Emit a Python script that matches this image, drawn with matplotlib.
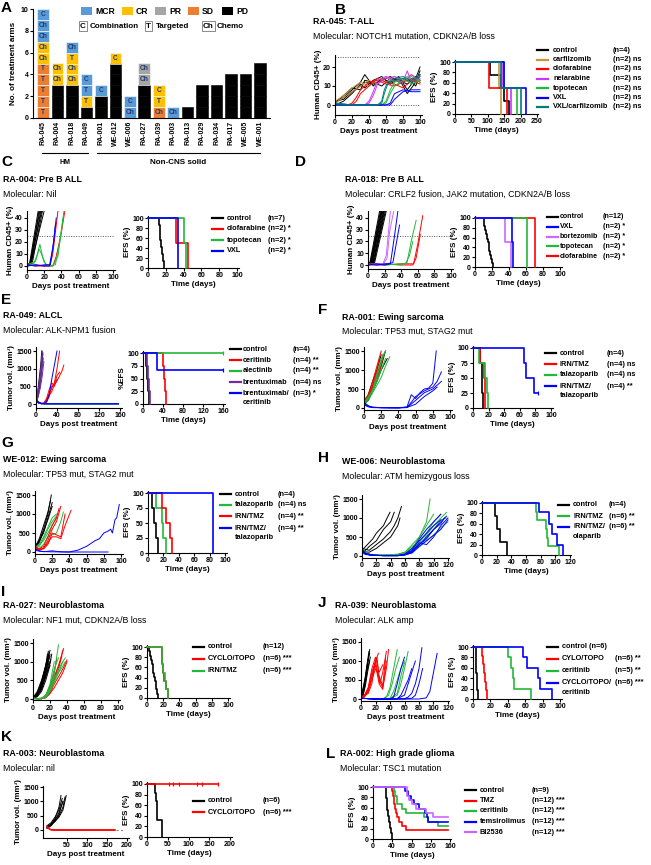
import matplotlib
matplotlib.use('Agg')
import matplotlib.pyplot as plt
from matplotlib.lines import Line2D
from matplotlib.patches import Rectangle

plt.rcParams['font.family'] = ['Liberation Sans', 'DejaVu Sans']
plt.rcParams['font.weight'] = 'bold'
plt.rcParams['axes.labelweight'] = 'bold'
plt.rcParams['axes.linewidth'] = 0.8

W, H = 651, 865
fig = plt.figure(figsize=(6.51, 8.65), dpi=100)

BLK, RED, GRN, BLU = '#000000', '#FF0000', '#22B83A', '#0000FF'

# ---------------- panel A data ----------------
a_models = ['RA-045', 'RA-004', 'RA-018', 'RA-049', 'RA-001', 'WE-012', 'WE-006', 'RA-027',
            'RA-039', 'RA-003', 'RA-013', 'RA-029', 'RA-034', 'RA-017', 'WE-005', 'WE-001']
a_status = [['SD'] * 5 + ['CR'] * 2 + ['MCR'] * 3,
            ['PD'] * 3 + ['CR'] * 2,
            ['PD'] * 3 + ['CR'] * 3 + ['MCR'],
            ['PD', 'CR', 'MCR', 'MCR'],
            ['PD', 'PD', 'MCR'],
            ['PD'] * 5 + ['CR'],
            ['MCR', 'MCR'],
            ['PD'] * 3 + ['PR'] * 2,
            ['SD', 'CR', 'CR'],
            ['MCR'],
            ['PD'], ['PD'] * 3, ['PD'] * 3, ['PD'] * 4, ['PD'] * 4, ['PD'] * 5]
a_type = [['T'] * 5 + ['Ch', 'Ch', 'Ch', 'Ch', 'C'],
          ['', '', '', 'Ch', 'Ch'],
          ['', '', '', 'Ch', 'Ch', 'T', 'Ch'],
          ['', 'T', 'T', 'C'],
          ['', '', 'C'],
          ['', '', '', '', '', 'C'],
          ['Ch', 'C'],
          ['', '', '', 'Ch', 'Ch'],
          ['Ch', 'T', 'C'],
          ['Ch'],
          [''], [''] * 3, [''] * 3, [''] * 4, [''] * 4, [''] * 5]
a_colors = {'MCR': '#5B9BD5', 'CR': '#FFC000', 'PR': '#A5A5A5', 'SD': '#ED7D31', 'PD': '#000000'}

# ---------------- panel B data (T-ALL, CD45+ %) ----------------
b_lines = {
    'control': [([0, 10, 20, 30, 35, 45, 55, 65, 75, 85, 95, 100], [1, 4, 8, 12, 16, 10, 14, 12, 15, 8, 14, 20]),
                ([0, 10, 20, 30, 35, 45, 55, 65, 75, 85, 95, 100], [2, 3, 7, 10, 12, 11, 13, 15, 12, 14, 10, 16]),
                ([0, 10, 20, 30, 35, 45, 55, 65, 75, 85, 95, 100], [0, 2, 6, 11, 9, 13, 15, 11, 14, 6, 12, 18]),
                ([0, 10, 20, 30, 35, 45, 55, 65, 75, 85, 95, 100], [1, 5, 9, 8, 13, 12, 10, 14, 13, 11, 15, 13])],
    'carfilzomib': [([0, 10, 20, 30, 40, 50, 60, 70, 80, 90, 100], [2, 5, 9, 12, 10, 14, 12, 15, 13, 12, 14]),
                    ([0, 10, 20, 30, 40, 50, 60, 70, 80, 90, 100], [1, 4, 7, 10, 13, 11, 15, 12, 14, 16, 12])],
    'clofarabine': [([0, 10, 15, 20, 25, 30, 40, 50, 60, 70, 80, 90, 100], [1, 0, 0, 1, 4, 8, 12, 13, 11, 10, 12, 14, 12]),
                    ([0, 10, 15, 20, 25, 30, 40, 50, 60, 70, 80, 90, 100], [0, 0, 0, 0, 2, 6, 10, 14, 12, 11, 9, 13, 11])],
    'nelarabine': [([0, 20, 35, 40, 45, 50, 60, 70, 80, 85, 90, 100], [1, 0, 0, 2, 7, 13, 15, 13, 12, 18, 12, 15]),
                   ([0, 20, 35, 40, 45, 50, 60, 70, 80, 85, 90, 100], [0, 0, 0, 1, 5, 11, 14, 15, 13, 14, 16, 13])],
    'topotecan': [([0, 20, 40, 55, 60, 65, 70, 80, 90, 100], [1, 0, 0, 0, 2, 8, 12, 14, 11, 13]),
                  ([0, 20, 40, 55, 60, 65, 70, 80, 90, 100], [0, 0, 0, 0, 1, 6, 10, 13, 15, 12])],
    'VXL': [([0, 20, 40, 55, 60, 65, 70, 80, 90, 100], [0, 0, 0, 0, 0, 1, 6, 8, 7, 7]),
            ([0, 20, 40, 55, 60, 65, 70, 80, 90, 100], [0, 0, 0, 0, 0, 0, 3, 7, 8, 8])],
    'VXL/carfilzomib': [([0, 20, 40, 50, 55, 58, 62, 70, 80, 90, 100], [1, 0, 0, 0, 2, 8, 12, 14, 15, 13, 16]),
                        ([0, 20, 40, 50, 55, 58, 62, 70, 80, 90, 100], [0, 0, 0, 0, 1, 6, 11, 13, 14, 12, 15])],
}
b_km = {
    'control': ([0, 108, 140, 150, 165], [100, 75, 50, 25, 0]),
    'carfilzomib': ([0, 135, 140], [100, 50, 0]),
    'clofarabine': ([0, 105, 160], [100, 50, 0]),
    'nelarabine': ([0, 143, 170], [100, 50, 0]),
    'topotecan': ([0, 148, 190], [100, 50, 0]),
    'VXL': ([0, 150, 215], [100, 50, 0]),
    'VXL/carfilzomib': ([0, 140, 200], [100, 50, 0]),
}
b_names = ['control', 'carfilzomib', 'clofarabine', 'nelarabine', 'topotecan', 'VXL', 'VXL/carfilzomib']
b_ns = ['(n=4)', '(n=2) ns', '(n=2) ns', '(n=2) ns', '(n=2) ns', '(n=2) ns', '(n=2) ns']
b_cols = [BLK, '#C8963E', RED, '#CC33FF', GRN, BLU, '#007A7A']

# ---------------- panel C data ----------------
c_lines = {
    'control': [([0, 3, 13], [0, 2, 46]), ([0, 4, 14], [1, 2, 46]), ([0, 3, 15], [0, 1, 46]),
                ([0, 5, 16], [1, 3, 46]), ([0, 4, 17], [0, 2, 46]), ([0, 6, 18], [1, 2, 46]),
                ([0, 5, 20], [0, 3, 46])],
    'clofarabine': [([0, 10, 20, 27, 30, 36], [1, 0, 0, 1, 10, 46]),
                    ([0, 10, 20, 30, 34, 40, 44], [0, 1, 0, 0, 8, 28, 46])],
    'topotecan': [([0, 8, 12, 15, 18, 22, 30, 36, 43], [0, 2, 10, 18, 8, 1, 0, 8, 46]),
                  ([0, 10, 14, 17, 20, 25, 33, 38, 42], [1, 4, 14, 10, 3, 0, 1, 20, 40])],
    'VXL': [([0, 10, 20, 26, 30, 34], [0, 1, 0, 0, 15, 40]),
            ([0, 10, 20, 27, 31, 33], [1, 0, 1, 1, 20, 34])],
}
c_km = {
    'control': ([0, 12, 13, 14, 15, 16, 17, 18], [100, 86, 71, 57, 43, 29, 14, 0]),
    'clofarabine': ([0, 32, 45], [100, 50, 0]),
    'topotecan': ([0, 41, 43], [100, 50, 0]),
    'VXL': ([0, 34], [100, 0]),
}
c_names = ['control', 'clofarabine', 'topotecan', 'VXL']
c_ns = ['(n=7)', '(n=2) *', '(n=2) *', '(n=2) *']
c_cols = [BLK, RED, GRN, BLU]

# ---------------- panel D data ----------------
d_lines = {
    'control': [([0, 2, 14], [0, 1, 46]), ([0, 3, 15], [1, 2, 46]), ([0, 3, 16], [0, 1, 46]),
                ([0, 4, 16], [1, 3, 46]), ([0, 4, 17], [0, 2, 46]), ([0, 5, 17], [1, 2, 46]),
                ([0, 5, 18], [0, 3, 46]), ([0, 6, 19], [1, 2, 46]), ([0, 6, 19], [0, 1, 46]),
                ([0, 7, 20], [1, 3, 46]), ([0, 7, 21], [0, 2, 46]), ([0, 8, 22], [1, 2, 46])],
    'clofarabine': [([0, 20, 40, 55, 60, 66], [0, 0, 1, 1, 18, 42]),
                    ([0, 20, 40, 54, 58, 63], [1, 1, 0, 0, 6, 26])],
    'topotecan': [([0, 20, 40, 47, 52, 58], [0, 1, 0, 2, 20, 38]),
                  ([0, 20, 40, 45, 50, 54], [1, 0, 1, 1, 8, 20])],
    'bortezomib': [([0, 10, 18, 22, 27], [0, 1, 1, 8, 46]),
                   ([0, 10, 18, 23, 26, 31], [1, 0, 0, 6, 28, 46])],
    'VXL': [([0, 10, 20, 27, 32, 36], [0, 1, 0, 1, 25, 46]),
            ([0, 10, 22, 30, 34, 38], [1, 0, 1, 2, 18, 34])],
}
d_km = {
    'control': ([0, 10, 11, 12, 13, 14, 15, 16, 17, 18, 19, 20, 21],
                [100, 92, 83, 75, 67, 58, 50, 42, 33, 25, 17, 8, 0]),
    'clofarabine': ([0, 70], [100, 0]),
    'topotecan': ([0, 61], [100, 0]),
    'bortezomib': ([0, 35, 42], [100, 50, 0]),
    'VXL': ([0, 43, 45], [100, 50, 0]),
}
d_names = ['control', 'VXL', 'bortezomib', 'topotecan', 'clofarabine']
d_ns = ['(n=12)', '(n=2) *', '(n=2) *', '(n=2) *', '(n=2) *']
d_cols = [BLK, BLU, '#CC66FF', GRN, RED]

# ---------------- panel E data ----------------
e_lines = {
    'control': [([0, 3, 6, 9, 11], [80, 300, 700, 1100, 1500]), ([0, 3, 6, 9, 12], [50, 200, 500, 900, 1400]),
                ([0, 4, 8, 11, 13], [100, 300, 650, 1000, 1450]), ([0, 4, 7, 10, 12], [60, 250, 550, 950, 1300])],
    'brentuximab': [([0, 3, 6, 9, 12], [100, 300, 600, 1000, 1500]), ([0, 4, 8, 11, 14], [50, 200, 500, 900, 1300]),
                    ([0, 3, 7, 10, 13], [80, 250, 600, 950, 1400]), ([0, 4, 8, 12, 15], [60, 200, 450, 800, 1200])],
    'ceritinib': [([0, 5, 10, 15, 20, 25, 30, 35, 40, 45], [150, 50, 20, 10, 100, 300, 450, 600, 1000, 1500]),
                  ([0, 5, 10, 15, 20, 25, 30, 35, 40, 45, 50, 53], [100, 40, 10, 10, 50, 200, 500, 550, 650, 800, 950, 1100]),
                  ([0, 5, 10, 15, 20, 25, 30, 35, 40], [120, 60, 20, 30, 150, 400, 600, 500, 700]),
                  ([0, 5, 10, 15, 20, 25, 30, 35, 40, 45], [80, 30, 10, 20, 100, 250, 350, 550, 800, 900])],
    'alectinib': [([0, 5, 10, 20, 40, 80, 120, 157], [100, 30, 10, 5, 5, 5, 5, 5]),
                  ([0, 5, 10, 20, 40, 80, 120, 157], [80, 20, 10, 5, 5, 5, 5, 5]),
                  ([0, 5, 10, 20, 40, 80, 120, 157], [120, 40, 15, 5, 5, 5, 5, 5]),
                  ([0, 5, 10, 20, 40, 80, 120, 157], [60, 20, 10, 5, 5, 5, 5, 5])],
    'brentuximab/ceritinib': [([0, 5, 10, 15, 20, 25, 30, 35, 40], [120, 50, 20, 10, 60, 250, 700, 1100, 1500]),
                              ([0, 5, 10, 20, 40, 80, 120, 157], [100, 40, 10, 5, 5, 5, 5, 5]),
                              ([0, 5, 10, 20, 40, 80, 120, 157], [90, 30, 10, 5, 5, 5, 5, 5])],
}
e_km = {
    'control': ([0, 6, 8, 10, 12], [100, 75, 50, 25, 0]),
    'ceritinib': ([0, 40, 42, 44, 45], [100, 75, 50, 25, 0]),
    'alectinib': ([0, 160], [100, 100]),
    'brentuximab': ([0, 8, 10, 11, 13], [100, 75, 50, 25, 0]),
    'brentuximab/ceritinib': ([0, 28, 160], [100, 67, 67]),
}
e_censor = {'alectinib': ([160], [100]), 'brentuximab/ceritinib': ([160], [67])}
e_names = ['control', 'ceritinib', 'alectinib', 'brentuximab', 'brentuximab/\nceritinib']
e_ns = ['(n=4)', '(n=4) **', '(n=4) **', '(n=4) ns', '(n=3) *']
e_cols = [BLK, RED, GRN, '#7030A0', BLU]

# ---------------- panel F data ----------------
f_lines = {
    'control': [([0, 5, 10, 15, 20, 25], [100, 250, 500, 800, 1100, 1500]),
                ([0, 5, 10, 15, 20, 24], [150, 300, 550, 900, 1200, 1450]),
                ([0, 5, 10, 15, 20], [120, 350, 700, 1000, 1400]),
                ([0, 5, 10, 15, 20, 27], [100, 200, 450, 700, 1000, 1300])],
    'IRN/TMZ': [([0, 5, 10, 15, 20], [200, 350, 700, 1100, 1500]),
                ([0, 5, 10, 15, 18], [150, 300, 600, 1000, 1300]),
                ([0, 4, 8, 12, 16, 20], [100, 250, 450, 700, 1000, 1200]),
                ([0, 5, 10, 15, 20, 22], [180, 300, 500, 800, 1100, 1400])],
    'talazoparib': [([0, 5, 10, 15, 20, 25], [120, 250, 500, 900, 1300, 1500]),
                    ([0, 5, 10, 15, 20, 25], [150, 300, 450, 700, 1000, 1300]),
                    ([0, 5, 10, 15, 20, 25, 30], [100, 200, 400, 600, 800, 1100, 1350]),
                    ([0, 5, 10, 15, 20, 25], [130, 250, 450, 800, 1200, 1500])],
    'IRN/TMZ/talazoparib': [([0, 5, 10, 20, 30, 40, 50, 55, 60, 65, 70, 75, 80, 84],
                             [150, 60, 20, 10, 10, 5, 30, 350, 250, 400, 500, 520, 650, 1500]),
                            ([0, 5, 10, 20, 30, 40, 50, 55, 60, 70, 80, 85, 90],
                             [100, 40, 20, 10, 5, 5, 20, 150, 300, 450, 550, 700, 950]),
                            ([0, 5, 10, 20, 30, 40, 50, 60, 70, 80, 85, 90],
                             [120, 50, 15, 10, 5, 5, 10, 200, 400, 500, 600, 700]),
                            ([0, 5, 10, 20, 30, 40, 50, 60, 70, 80, 85],
                             [80, 30, 10, 5, 5, 5, 15, 100, 300, 450, 550])],
}
f_km = {
    'control': ([0, 9, 11, 12, 13], [100, 75, 50, 25, 0]),
    'IRN/TMZ': ([0, 9, 14, 15, 16], [100, 75, 50, 25, 0]),
    'talazoparib': ([0, 8, 15, 18, 19], [100, 75, 50, 25, 0]),
    'IRN/TMZ/talazoparib': ([0, 65, 68, 78, 83], [100, 75, 50, 25, 25]),
}
f_censor = {'IRN/TMZ/talazoparib': ([83], [25])}
f_names = ['control', 'IRN/TMZ', 'talazoparib', 'IRN/TMZ/\ntalazoparib']
f_ns = ['(n=4)', '(n=4) ns', '(n=4) ns', '(n=4) **']
f_cols = [BLK, RED, GRN, BLU]

# ---------------- panel G data ----------------
g_lines = {
    'control': [([0, 5, 10, 15, 19], [100, 300, 600, 1000, 1500]), ([0, 5, 10, 15, 20], [150, 300, 500, 900, 1300]),
                ([0, 5, 10, 15, 18], [120, 350, 700, 1050, 1350]), ([0, 5, 10, 15, 20], [80, 250, 550, 850, 1200])],
    'talazoparib': [([0, 5, 10, 15, 20, 25], [100, 200, 400, 650, 900, 1000]),
                    ([0, 5, 10, 15, 20, 25], [150, 150, 350, 600, 800, 950]),
                    ([0, 5, 10, 15, 20, 25, 30, 33], [100, 100, 200, 400, 450, 500, 800, 1050]),
                    ([0, 5, 10, 15, 20, 25], [120, 200, 300, 500, 700, 900])],
    'IRN/TMZ': [([0, 5, 10, 15, 20, 25, 30], [100, 50, 100, 300, 600, 800, 1200]),
                ([0, 5, 10, 15, 20, 25, 30, 35], [150, 80, 80, 200, 500, 450, 400, 1000]),
                ([0, 5, 10, 15, 20, 25, 30, 35, 42], [100, 50, 100, 250, 400, 400, 350, 700, 1100]),
                ([0, 5, 10, 15, 20, 25, 28], [120, 80, 150, 400, 700, 900, 1150])],
    'IRN/TMZ/talazoparib': [([0, 5, 10, 20, 30, 40, 50, 60, 70, 75, 80, 85, 88, 90, 93, 95, 98],
                             [50, 20, 10, 30, 5, 0, 50, 150, 300, 350, 500, 550, 600, 500, 850, 900, 1250]),
                            ([0, 5, 10, 20, 40, 60, 85], [80, 30, 10, 5, 0, 0, 0])],
}
g_km = {
    'control': ([0, 5, 8, 11, 13], [100, 75, 50, 25, 0]),
    'talazoparib': ([0, 10, 18, 20, 24], [100, 75, 50, 25, 0]),
    'IRN/TMZ': ([0, 18, 24, 29, 31], [100, 75, 50, 25, 0]),
    'IRN/TMZ/talazoparib': ([0, 85], [100, 0]),
}
g_names = ['control', 'talazoparib', 'IRN/TMZ', 'IRN/TMZ/\ntalazoparib']
g_ns = ['(n=4)', '(n=4) ns', '(n=4) **', '(n=4) **']
g_cols = [BLK, GRN, RED, BLU]

# ---------------- panel H data ----------------
h_lines = {
    'control': [([0, 5, 10, 15, 20, 25, 30, 35, 39], [150, 250, 350, 450, 600, 700, 800, 1000, 1150]),
                ([0, 5, 10, 20, 30, 40, 45], [100, 150, 250, 400, 700, 900, 1150]),
                ([0, 10, 20, 30, 40, 45, 50, 55], [200, 150, 300, 450, 650, 800, 1000, 1300]),
                ([0, 10, 20, 30, 40, 50, 53], [120, 100, 200, 350, 500, 800, 1000])],
    'IRN/TMZ': [([0, 5, 10, 20, 40, 60, 70, 80, 90, 95], [200, 100, 30, 20, 20, 60, 200, 500, 900, 1500]),
                ([0, 5, 10, 20, 40, 60, 70, 80, 90, 100, 110], [150, 80, 30, 20, 20, 50, 150, 350, 600, 900, 1100]),
                ([0, 5, 15, 30, 50, 60, 70, 80, 90, 100, 110, 118], [120, 60, 20, 20, 30, 80, 200, 300, 500, 700, 950, 1000]),
                ([0, 5, 15, 30, 50, 60, 70, 80, 90, 100, 110, 118], [180, 90, 30, 20, 40, 100, 250, 400, 550, 800, 1000, 1150]),
                ([0, 5, 15, 30, 50, 60, 70, 80, 90, 100], [100, 50, 20, 20, 50, 100, 300, 500, 800, 1100]),
                ([0, 5, 15, 30, 50, 60, 70, 80, 90, 100, 110, 120], [150, 70, 25, 20, 30, 60, 150, 250, 400, 550, 750, 900])],
    'IRN/TMZ/olaparib': [([0, 5, 15, 30, 50, 60, 70, 80, 90, 100, 110], [150, 60, 20, 10, 10, 40, 150, 450, 700, 900, 1100]),
                         ([0, 5, 15, 30, 50, 60, 70, 80, 90, 100, 110, 118], [120, 50, 20, 10, 10, 30, 100, 300, 500, 700, 900, 1050]),
                         ([0, 5, 15, 30, 50, 60, 70, 80, 90, 100, 110, 120], [100, 40, 20, 10, 10, 30, 80, 250, 400, 550, 700, 950]),
                         ([0, 5, 15, 30, 50, 60, 70, 80, 90, 100, 110, 120], [180, 70, 20, 10, 10, 30, 100, 350, 300, 500, 800, 1000]),
                         ([0, 5, 15, 30, 50, 60, 70, 80, 90, 100, 110], [130, 50, 15, 10, 10, 50, 200, 400, 600, 800, 950]),
                         ([0, 5, 15, 30, 50, 60, 70, 80, 90, 100, 110, 115], [160, 60, 20, 10, 10, 40, 120, 300, 450, 700, 850, 1000])],
}
h_km = {
    'control': ([0, 18, 20, 25, 34], [100, 75, 50, 25, 0]),
    'IRN/TMZ': ([0, 73, 75, 87, 88, 90, 105], [100, 83, 67, 50, 33, 17, 0]),
    'IRN/TMZ/olaparib': ([0, 78, 92, 96, 102, 110], [100, 83, 60, 40, 20, 0]),
}
h_names = ['control', 'IRN/TMZ', 'IRN/TMZ/\nolaparib']
h_ns = ['(n=4)', '(n=6) **', '(n=6) **']
h_cols = [BLK, GRN, BLU]

# ---------------- panel I data ----------------
i_lines = {
    'control': [([0, 5, 10, 15, 19], [20, 100, 350, 800, 1250]), ([0, 5, 10, 15, 20], [30, 150, 400, 900, 1300]),
                ([0, 5, 10, 15, 18], [10, 80, 300, 700, 1100]), ([0, 5, 10, 15, 20], [40, 120, 450, 850, 1200]),
                ([0, 5, 10, 15, 21], [20, 100, 300, 600, 1050]), ([0, 5, 10, 15, 17], [30, 200, 500, 900, 1200]),
                ([0, 5, 10, 15, 20, 22], [20, 80, 250, 600, 950, 1200]), ([0, 5, 10, 14, 16], [10, 150, 450, 800, 1000]),
                ([0, 5, 10, 15, 20], [30, 100, 350, 750, 1150]), ([0, 5, 10, 15, 19], [20, 90, 300, 650, 1000]),
                ([0, 5, 10, 15, 20], [10, 60, 200, 500, 900]), ([0, 5, 10, 15, 18], [40, 150, 400, 800, 1280])],
    'CYCLO/TOPO': [([0, 5, 10, 15, 20, 25, 30, 35], [20, 10, 10, 50, 200, 500, 800, 1300]),
                   ([0, 5, 10, 15, 20, 25, 30, 35, 40], [30, 10, 10, 30, 150, 400, 600, 800, 1050]),
                   ([0, 5, 10, 15, 20, 25, 30, 36], [20, 5, 10, 100, 300, 600, 900, 1350]),
                   ([0, 5, 10, 15, 20, 25, 30, 35, 40], [10, 10, 5, 50, 150, 300, 500, 700, 1000]),
                   ([0, 5, 10, 15, 20, 25, 28], [20, 10, 20, 100, 350, 700, 1100]),
                   ([0, 5, 10, 15, 20, 25, 30, 34], [15, 10, 10, 60, 250, 550, 850, 1150])],
    'IRN/TMZ': [([0, 5, 10, 15, 20, 25, 30], [20, 10, 10, 40, 200, 700, 1450]),
                ([0, 5, 10, 15, 20, 25, 30, 35, 38], [30, 10, 20, 80, 300, 500, 800, 1000, 1100]),
                ([0, 5, 10, 15, 20, 25, 30], [20, 10, 10, 60, 350, 800, 1100]),
                ([0, 5, 10, 15, 20, 25, 28, 33, 38], [10, 5, 10, 50, 250, 600, 650, 800, 1000]),
                ([0, 5, 10, 15, 20, 25], [20, 10, 20, 100, 400, 1000]),
                ([0, 5, 10, 15, 20, 25, 30, 35], [15, 5, 10, 80, 200, 450, 700, 1000])],
}
i_km = {
    'control': ([0, 3, 4, 5, 6, 7, 8, 9, 10, 11, 12, 13], [100, 92, 83, 75, 67, 58, 50, 42, 33, 17, 8, 0]),
    'CYCLO/TOPO': ([0, 18, 19, 20, 21, 23, 26], [100, 83, 67, 50, 33, 17, 0]),
    'IRN/TMZ': ([0, 19, 20, 22, 24, 26], [100, 67, 50, 33, 17, 0]),
}
i_names = ['control', 'CYCLO/TOPO', 'IRN/TMZ']
i_ns = ['(n=12)', '(n=6) ***', '(n=6) ***']
i_cols = [BLK, RED, GRN]

# ---------------- panel J data ----------------
j_lines = {
    'control': [([0, 3, 6, 9, 12], [50, 200, 500, 900, 1300]), ([0, 3, 6, 9, 11], [80, 300, 600, 1000, 1250]),
                ([0, 3, 6, 9, 13], [40, 150, 400, 800, 1100]), ([0, 3, 6, 9, 12], [60, 250, 550, 950, 1200]),
                ([0, 3, 6, 8, 10], [50, 200, 450, 800, 1050]), ([0, 3, 6, 9, 12], [30, 100, 350, 700, 1000])],
    'CYLO/TOPO': [([0, 5, 10, 15, 20, 25, 30, 35, 38], [50, 100, 300, 700, 1000, 500, 300, 800, 1300]),
                  ([0, 5, 10, 15, 20, 25, 30, 35], [40, 80, 250, 600, 900, 400, 250, 1000]),
                  ([0, 5, 10, 15, 20, 25, 30, 34], [60, 100, 200, 500, 800, 600, 350, 1100]),
                  ([0, 5, 10, 15, 18, 22, 26, 30, 35], [50, 80, 150, 400, 800, 1100, 400, 700, 1250]),
                  ([0, 5, 10, 15, 20, 25, 30], [30, 100, 300, 800, 1100, 700, 900]),
                  ([0, 5, 10, 15, 20, 24], [50, 60, 200, 600, 1000, 1200])],
    'ceritinib': [([0, 10, 20, 30, 35, 40, 45, 50], [20, 10, 0, 0, 50, 300, 800, 1300]),
                  ([0, 10, 20, 30, 38, 43, 48, 53], [20, 10, 0, 0, 100, 400, 800, 1100]),
                  ([0, 10, 20, 30, 40, 45, 50, 55, 60], [20, 10, 0, 0, 20, 200, 500, 800, 1000]),
                  ([0, 10, 20, 30, 40, 50, 55, 60, 65], [20, 10, 0, 0, 10, 100, 400, 800, 1250]),
                  ([0, 10, 20, 30, 40, 50, 55, 60], [20, 10, 0, 0, 10, 150, 600, 950])],
    'CYCLO/TOPO/ceritinib': [([0, 20, 40, 45, 50, 55, 60], [20, 0, 0, 50, 400, 800, 1100]),
                             ([0, 20, 40, 50, 55, 60, 65, 70], [20, 0, 0, 10, 100, 300, 500, 800]),
                             ([0, 20, 40, 50, 60, 65, 70, 75], [20, 0, 0, 10, 100, 400, 700, 1000]),
                             ([0, 20, 40, 60, 65, 70, 75, 80, 84], [20, 0, 0, 10, 50, 150, 400, 800, 1350]),
                             ([0, 20, 40, 60, 70, 75, 80, 85], [20, 0, 0, 0, 20, 100, 400, 800]),
                             ([0, 20, 40, 60, 80, 90, 95, 100, 105], [20, 0, 0, 0, 0, 30, 200, 700, 1200])],
}
j_km = {
    'control': ([0, 3, 4, 5, 6], [100, 67, 50, 17, 0]),
    'CYLO/TOPO': ([0, 10, 12, 13, 14, 15, 16], [100, 83, 67, 50, 33, 17, 0]),
    'ceritinib': ([0, 40, 44, 46, 47, 67], [100, 80, 60, 40, 20, 0]),
    'CYCLO/TOPO/ceritinib': ([0, 57, 62, 75, 77, 91], [100, 80, 60, 40, 20, 0]),
}
j_names = ['control (n=6)', 'CYLO/TOPO', 'ceritinib', 'CYCLO/TOPO/\nceritinib']
j_ns = ['', '(n=6) **', '(n=5) **', '(n=6) ***']
j_cols = [BLK, RED, GRN, BLU]

# ---------------- panel K data ----------------
k_lines = {
    'control': [([0, 10, 20, 30, 35], [100, 200, 400, 800, 1200]), ([0, 10, 20, 30, 38], [150, 250, 450, 700, 1100]),
                ([0, 10, 20, 30, 40], [100, 150, 350, 600, 1000]), ([0, 10, 20, 30, 40, 45], [50, 150, 300, 500, 800, 1150]),
                ([0, 10, 20, 30, 40, 48], [100, 200, 300, 450, 700, 1200]), ([0, 10, 20, 30, 35, 40], [80, 200, 350, 550, 800, 1000])],
    'CYCLO/TOPO': [([0, 3, 6, 10, 20, 50, 100, 150, 170], [150, 100, 50, 10, 0, 0, 0, 0, 0]),
                   ([0, 3, 6, 10, 20, 50, 100, 150, 170], [120, 80, 40, 10, 0, 0, 0, 0, 0]),
                   ([0, 3, 6, 10, 20, 50, 100, 150, 170], [100, 60, 30, 5, 0, 0, 0, 0, 0]),
                   ([0, 3, 6, 10, 20, 50, 100, 150, 170], [80, 100, 20, 5, 0, 0, 0, 0, 0])],
}
k_km = {
    'control': ([0, 20, 22, 24, 25, 35], [100, 83, 67, 50, 33, 0]),
    'CYCLO/TOPO': ([0, 170], [100, 100]),
}
k_censor = {'CYCLO/TOPO': ([52, 62, 78, 120, 132, 170], [100] * 6)}
k_names = ['control', 'CYCLO/TOPO']
k_ns = ['(n=6)', '(n=6) ***']
k_cols = [BLK, RED]

# ---------------- panel L data ----------------
l_km = {
    'control': ([0, 27, 28, 29, 30, 32, 34, 36, 38, 40], [100, 89, 78, 67, 56, 44, 33, 22, 11, 0]),
    'TMZ': ([0, 40, 42, 44, 46, 48, 50, 55, 60, 68, 155], [100, 92, 83, 67, 58, 50, 42, 33, 25, 17, 17]),
    'ceritinib': ([0, 43, 45, 50, 60, 68, 105, 115, 135, 155], [100, 92, 83, 67, 58, 50, 42, 33, 25, 25]),
    'temsirolimus': ([0, 67, 72, 78, 85, 95, 108, 112, 115, 155], [100, 92, 83, 75, 67, 58, 50, 42, 33, 33]),
    'BI2536': ([0, 70, 75, 80, 90, 110, 125, 155], [100, 83, 75, 67, 58, 50, 42, 42]),
}
l_names = ['control', 'TMZ', 'ceritinib', 'temsirolimus', 'BI2536']
l_ns = ['(n=9)', '(n=12) ***', '(n=12) ***', '(n=12) ***', '(n=12) ***']
l_cols = [BLK, RED, GRN, BLU, '#CC66FF']


# ---------------- helpers ----------------
def ftext(x, y, s, **kw):
    return fig.text(x / W, 1 - y / H, s, **kw)


def fline(x0, x1, y0, y1, **kw):
    fig.add_artist(Line2D([x0 / W, x1 / W], [1 - y0 / H, 1 - y1 / H], **kw))


def place(xr, yr, xlim, ylim):
    # xr / yr: two (pixel, value) reference pairs
    (xp0, xv0), (xp1, xv1) = xr
    (yp0, yv0), (yp1, yv1) = yr
    sx = (xp1 - xp0) / (xv1 - xv0)
    sy = (yp1 - yp0) / (yv1 - yv0)
    l = xp0 + (xlim[0] - xv0) * sx
    r = xp0 + (xlim[1] - xv0) * sx
    b = yp0 + (ylim[0] - yv0) * sy
    t = yp0 + (ylim[1] - yv0) * sy
    ax = fig.add_axes([l / W, 1 - b / H, (r - l) / W, (b - t) / H])
    ax.set_xlim(xlim)
    ax.set_ylim(ylim)
    return ax


def style(ax, xt, yt, xlabel=None, ylabel=None):
    ax.spines[['top', 'right']].set_visible(False)
    ax.set_xticks(xt)
    ax.set_yticks(yt)
    ax.tick_params(labelsize=5, length=2, width=0.8, pad=1)
    if xlabel:
        ax.set_xlabel(xlabel, fontsize=5.8, labelpad=1.5)
    if ylabel:
        ax.set_ylabel(ylabel, fontsize=5.8, labelpad=1)


def spaghetti(ax, lines, colors):
    for (name, group), c in zip(lines.items(), colors):
        for x, y in group:
            ax.plot(x, y, color=c, lw=0.7)


def km(ax, data, colors, censor=None):
    for (name, (t, s)), c in zip(data.items(), colors):
        ax.plot(t, s, drawstyle='steps-post', color=c, lw=1.2, clip_on=False, zorder=3)
        if censor and name in censor:
            ax.plot(censor[name][0], censor[name][1], ls='none', marker='|', ms=3,
                    mew=0.9, color=c, clip_on=False, zorder=3)


def legend(xl, xn, xc, ys, names, ns, colors, size=5.3):
    for y, name, n, c in zip(ys, names, ns, colors):
        fline(xl, xl + 11, y, y, color=c, lw=1.6)
        for k, part in enumerate(name.split('\n')):
            ftext(xn, y + k * 9.5, part, fontsize=size, va='center', ha='left')
        ftext(xc, y, n, fontsize=size, va='center', ha='left')


def header(xletter, yletter, letter, xt, yt, title, mol):
    if letter:
        ftext(xletter, yletter, letter, fontsize=11, va='center', ha='left')
    ftext(xt, yt, title, fontsize=6.4, va='center', ha='left')
    ftext(xt, yt + 14.5, mol, fontsize=6.3, va='center', ha='left', fontweight='normal')


# ---------------- panel A ----------------
ftext(1, 8, 'A', fontsize=11, va='center', ha='left')
ax = place(((43, 0), (260, 15)), ((118, 0), (9, 10)), (-0.7, 15.7), (0, 10))
for i, (stat, typ) in enumerate(zip(a_status, a_type)):
    for j, (s, tp) in enumerate(zip(stat, typ)):
        ec = a_colors[s] if s == 'PD' else 'white'
        ax.bar(i, 1, bottom=j, width=0.8, color=a_colors[s], edgecolor=ec, linewidth=0.4)
        if tp:
            ax.text(i, j + 0.5, tp, ha='center', va='center', fontsize=4.8, color='#1F3B73')
ax.spines[['top', 'right']].set_visible(False)
ax.set_yticks([0, 2, 4, 6, 8, 10])
ax.set_xticks(range(len(a_models)))
ax.set_xticklabels(a_models, rotation=90, fontsize=4.6)
ax.tick_params(labelsize=5, length=2, width=0.8, pad=1)
ax.tick_params(axis='x', length=0, pad=2)
ax.set_ylabel('No. of treatment arms', fontsize=5.8, labelpad=3)
fline(42, 88, 153, 153, color='black', lw=0.8)
fline(97, 260, 153, 153, color='black', lw=0.8)
ftext(65, 162, 'HM', fontsize=5, ha='center', va='center')
ftext(178, 162, 'Non-CNS solid', fontsize=5.8, ha='center', va='center')
a_leg = [('MCR', 81), ('CR', 122), ('PR', 155), ('SD', 188), ('PD', 222)]
for name, x in a_leg:
    fig.add_artist(Rectangle((x / W, 1 - 15 / H), 11 / W, 8 / H, transform=fig.transFigure,
                             facecolor=a_colors[name], edgecolor='none'))
    ftext(x + 14, 11, name, fontsize=6.2, va='center', ha='left')
for tag, label, x in [('C', 'Combination', 80), ('T', 'Targeted', 146), ('Ch', 'Chemo', 203)]:
    ftext(x, 26, tag, fontsize=5.8, va='center', ha='left',
          bbox=dict(boxstyle='square,pad=0.15', fc='white', ec='#777777', lw=0.6))
    ftext(x + 6 + 4 * len(tag), 26, label, fontsize=5.8, va='center', ha='left')

# ---------------- panel B ----------------
header(335, 10, 'B', 313, 22, 'RA-045: T-ALL', 'Molecular: NOTCH1 mutation, CDKN2A/B loss')
ax = place(((335, 0), (420, 100)), ((105, 0), (67, 20)), (0, 102), (-5, 26.5))
for yv in [0, 25]:
    ax.axhline(yv, color='#555555', lw=0.7, ls=(0, (1, 1.5)), xmax=100 / 102)
spaghetti(ax, b_lines, b_cols)
style(ax, range(0, 101, 20), [0, 10, 20], 'Days post treatment', 'Human CD45+ (%)')
ax = place(((455, 0), (537, 250)), ((114, 0), (62, 100)), (0, 252), (0, 104))
km(ax, b_km, b_cols)
style(ax, range(0, 251, 50), range(0, 101, 20), 'Time (days)', 'EFS (%)')
legend(537, 553, 613, [50 + 9.5 * k for k in range(7)], b_names, b_ns, b_cols)

# ---------------- panel C ----------------
header(1, 162, 'C', 3, 180, 'RA-004: Pre B ALL', 'Molecular: Nil')
ax = place(((27, 0), (113, 100)), ((266, 0), (218, 40)), (0, 102), (-3, 46))
ax.axhline(25, color='#555555', lw=0.7, ls=(0, (1, 1.5)))
spaghetti(ax, c_lines, c_cols)
style(ax, range(0, 101, 20), range(0, 41, 10), 'Days post treatment', 'Human CD45+ (%)')
ax = place(((148, 0), (237, 100)), ((268, 0), (218, 100)), (0, 102), (0, 104))
km(ax, c_km, c_cols)
style(ax, range(0, 101, 20), range(0, 101, 20), 'Time (days)', 'EFS (%)')
legend(212, 227, 268, [218, 229, 240, 251], c_names, c_ns, c_cols)

# ---------------- panel D ----------------
header(295, 162, 'D', 345, 180, 'RA-018: Pre B ALL', 'Molecular: CRLF2 fusion, JAK2 mutation, CDKN2A/B loss')
ax = place(((368, 0), (451, 100)), ((265, 0), (218, 40)), (0, 102), (-3, 46))
ax.axhline(25, color='#555555', lw=0.7, ls=(0, (1, 1.5)))
spaghetti(ax, d_lines, [BLK, RED, GRN, '#CC66FF', BLU])
style(ax, range(0, 101, 20), range(0, 41, 10), 'Days post treatment', 'Human CD45+ (%)')
ax = place(((475, 0), (560, 100)), ((267, 0), (218, 100)), (0, 102), (0, 104))
km(ax, d_km, [BLK, RED, GRN, '#CC66FF', BLU])
style(ax, range(0, 101, 20), range(0, 101, 20), 'Time (days)', 'EFS (%)')
legend(547, 560, 603, [217, 227, 237, 246, 256], d_names, d_ns, d_cols, size=5.1)

# ---------------- panel E ----------------
header(1, 300, 'E', 3, 316, 'RA-049: ALCL', 'Molecular: ALK-NPM1 fusion')
ax = place(((36, 0), (120, 160)), ((404, 0), (351, 1500)), (0, 163), (-100, 1600))
spaghetti(ax, e_lines, [BLK, '#7030A0', RED, GRN, BLU])
style(ax, range(0, 161, 40), range(0, 1501, 500), 'Days post treatment', 'Tumor vol. (mm³)')
ax = place(((143, 0), (223, 160)), ((404, 0), (353, 100)), (0, 163), (0, 104))
km(ax, e_km, [BLK, RED, GRN, '#7030A0', BLU], e_censor)
style(ax, range(0, 161, 40), range(0, 101, 25), 'Time (days)', '%EFS')
legend(230, 243, 293, [349, 360, 371, 382, 393], e_names, e_ns, e_cols)

# ---------------- panel F ----------------
header(318, 310, 'F', 342, 317, 'RA-001: Ewing sarcoma', 'Molecular: TP53 mut, STAG2 mut')
ax = place(((364, 0), (450, 100)), ((408, 0), (351, 1500)), (0, 102), (-60, 1600))
spaghetti(ax, f_lines, f_cols)
style(ax, range(0, 101, 20), range(0, 1501, 500), 'Days post treatment', 'Tumor vol. (mm³)')
ax = place(((473, 0), (551, 100)), ((408, 0), (348, 100)), (0, 102), (0, 104))
km(ax, f_km, f_cols, f_censor)
style(ax, range(0, 101, 20), range(0, 101, 25), 'Time (days)', 'EFS (%)')
legend(545, 560, 607, [353, 364, 375, 386], f_names, f_ns, f_cols)

# ---------------- panel G ----------------
header(1, 443, 'G', 3, 460, 'WE-012: Ewing sarcoma', 'Molecular: TP53 mut, STAG2 mut')
ax = place(((35, 0), (121, 100)), ((552, 0), (495, 1500)), (0, 102), (-40, 1600))
spaghetti(ax, g_lines, g_cols)
style(ax, range(0, 101, 20), range(0, 1501, 500), 'Days post treatment', 'Tumor vol. (mm³)')
ax = place(((148, 0), (225, 100)), ((553, 0), (493, 100)), (0, 102), (0, 104))
km(ax, g_km, g_cols)
style(ax, range(0, 101, 20), range(0, 101, 25), 'Time (days)', 'EFS (%)')
legend(220, 235, 278, [494, 505, 516, 528], g_names, g_ns, g_cols)

# ---------------- panel H ----------------
header(318, 458, 'H', 342, 462, 'WE-006: Neuroblastoma', 'Molecular: ATM hemizygous loss')
ax = place(((362, 0), (448, 120)), ((556, 0), (499, 1500)), (0, 122), (-40, 1600))
spaghetti(ax, h_lines, h_cols)
style(ax, range(0, 121, 20), range(0, 1501, 500), 'Days post treatment', 'Tumor vol. (mm³)')
ax = place(((482, 0), (570, 120)), ((555, 0), (503, 100)), (0, 122), (0, 104))
km(ax, h_km, h_cols)
style(ax, range(0, 121, 20), range(0, 101, 20), 'Time (days)', 'EFS (%)')
legend(558, 573, 609, [505, 516, 527], h_names, h_ns, h_cols)

# ---------------- panel I ----------------
header(1, 592, 'I', 3, 606, 'RA-027: Neuroblastoma', 'Molecular: NF1 mut, CDKN2A/B loss')
ax = place(((33, 0), (118, 100)), ((699, 0), (643, 1500)), (0, 102), (-40, 1600))
spaghetti(ax, i_lines, i_cols)
style(ax, range(0, 101, 20), range(0, 1501, 500), 'Days post treatment', 'Tumor vol. (mm³)')
ax = place(((147, 0), (228, 100)), ((698, 0), (647, 100)), (0, 102), (0, 104))
km(ax, i_km, i_cols)
style(ax, range(0, 101, 20), range(0, 101, 20), 'Time (days)', 'EFS (%)')
legend(193, 208, 263, [647, 659, 671], i_names, i_ns, i_cols)

# ---------------- panel J ----------------
header(318, 603, 'J', 335, 606, 'RA-039: Neuroblastoma', 'Molecular: ALK amp')
ax = place(((361, 0), (448, 120)), ((699, 0), (642, 1500)), (0, 122), (-40, 1600))
spaghetti(ax, j_lines, j_cols)
style(ax, range(0, 121, 20), range(0, 1501, 500), 'Days post treatment', 'Tumor vol. (mm³)')
ax = place(((473, 0), (560, 100)), ((699, 0), (647, 100)), (0, 102), (0, 104))
km(ax, j_km, j_cols)
style(ax, range(0, 101, 20), range(0, 101, 20), 'Time (days)', 'EFS (%)')
legend(547, 562, 615, [647, 659, 671, 683], j_names, j_ns, j_cols)

# ---------------- panel K ----------------
header(1, 737, 'K', 3, 754, 'RA-003: Neuroblastoma', 'Molecular: nil')
ax = place(((67, 50), (127, 200)), ((830, 0), (787, 1500)), (-10, 205), (-280, 1550))
spaghetti(ax, k_lines, k_cols)
ax.plot([172, 195], [0, 0], color='#888888', lw=0.8, ls=(0, (2, 2)))
style(ax, range(50, 201, 50), range(0, 1501, 500), 'Days post treatment', 'Tumor vol. (mm³)')
ax = place(((147, 0), (230, 200)), ((837, 0), (784, 100)), (0, 204), (0, 104))
km(ax, k_km, k_cols, k_censor)
style(ax, range(0, 201, 50), range(0, 101, 20), 'Time (days)', 'EFS (%)')
legend(193, 208, 263, [801, 812], k_names, k_ns, k_cols)

# ---------------- panel L ----------------
header(326, 754, 'L', 340, 754, 'RA-002: High grade glioma', 'Molecular: TSC1 mutation')
ax = place(((373, 0), (450, 160)), ((839, 0), (787, 100)), (0, 163), (0, 104))
km(ax, l_km, l_cols)
style(ax, range(0, 161, 40), range(0, 101, 20), 'Time (days)', 'EFS (%)')
legend(465, 480, 532, [790, 800.5, 811, 821.5, 832], l_names, l_ns, l_cols)

fig.savefig('out.png', dpi=100)
